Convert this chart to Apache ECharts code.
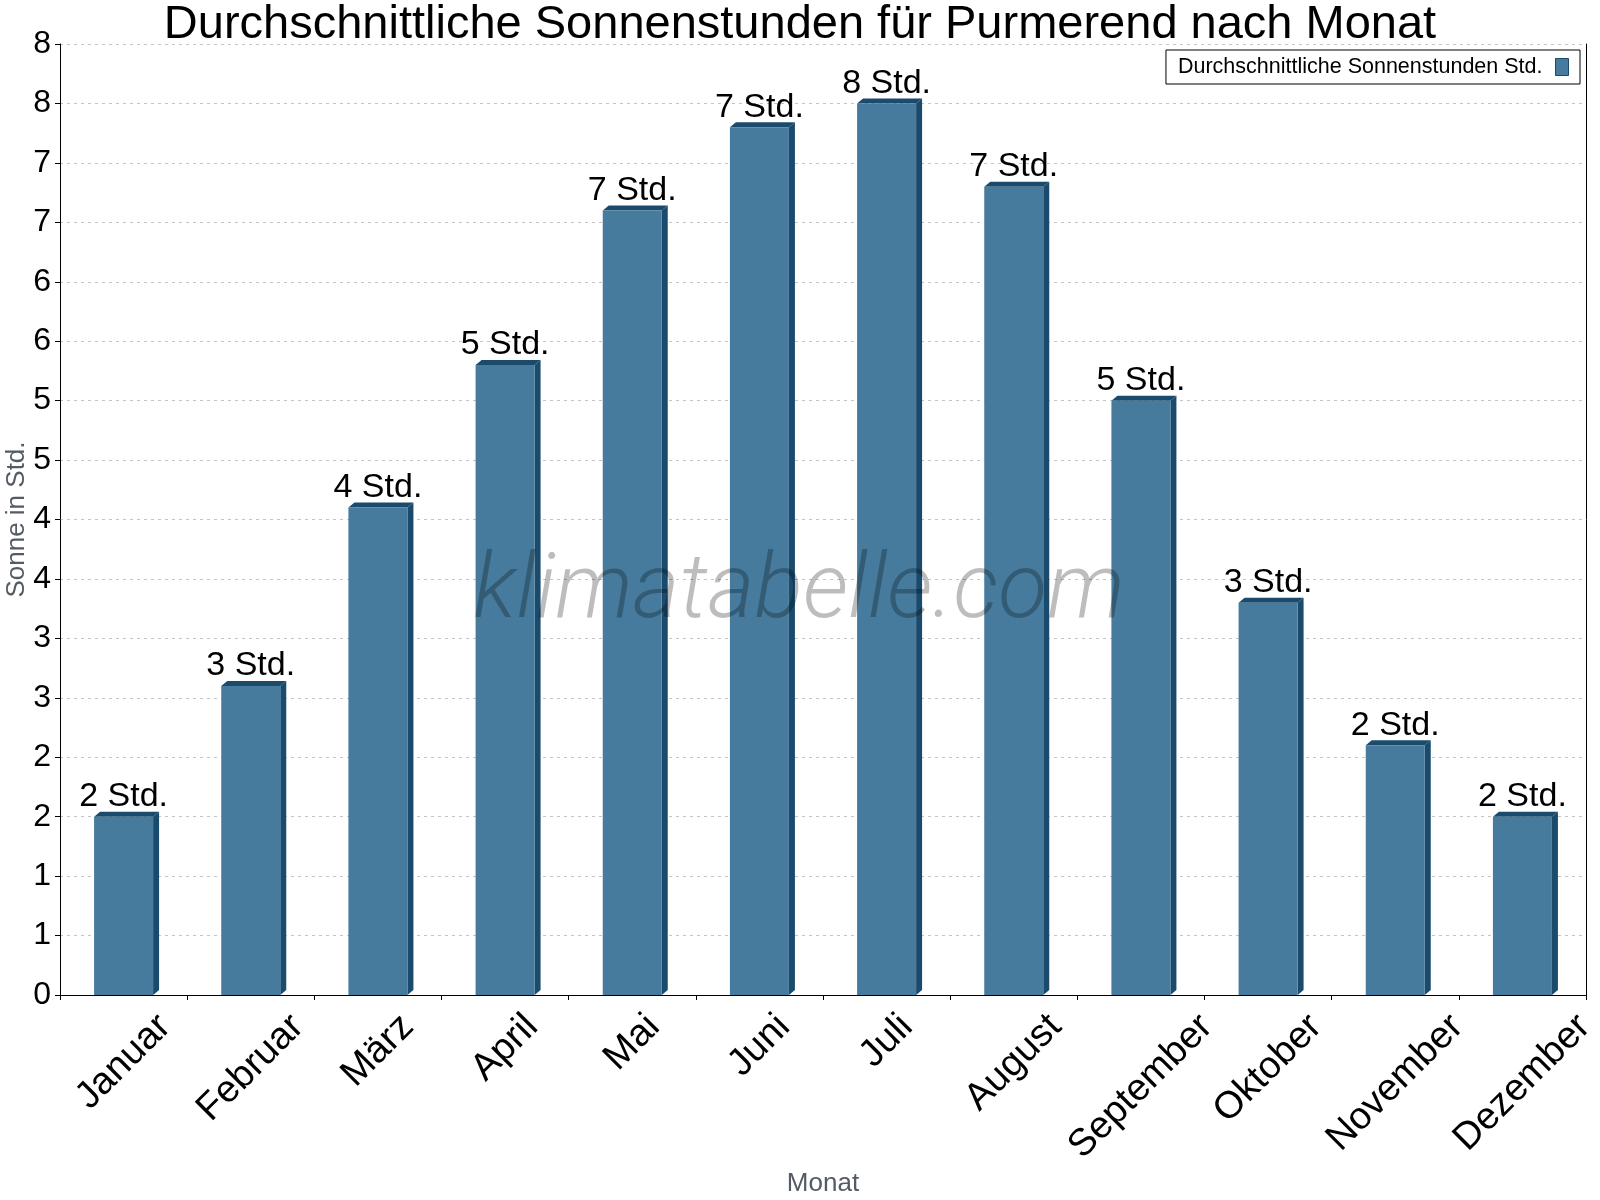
<!DOCTYPE html>
<html>
<head>
<meta charset="utf-8">
<script src="https://cdn.jsdelivr.net/npm/echarts@6/dist/echarts.min.js"></script>
<style>
  html, body { margin: 0; padding: 0; background: #ffffff; }
  #chart { width: 1600px; height: 1200px; }
</style>
</head>
<body>
<div id="chart"></div>
<script>
const months = ['Januar', 'Februar', 'März', 'April', 'Mai', 'Juni', 'Juli', 'August', 'September', 'Oktober', 'November', 'Dezember'];
const sunHours = [1.5, 2.6, 4.1, 5.3, 6.6, 7.3, 7.5, 6.8, 5.0, 3.3, 2.1, 1.5];
const yTickLabels = ['0', '1', '1', '2', '2', '3', '3', '4', '4', '5', '5', '6', '6', '7', '7', '8', '8'];
const seriesName = 'Durchschnittliche Sonnenstunden Std.';
const titleText = 'Durchschnittliche Sonnenstunden für Purmerend nach Monat';

const FRONT = '#467b9d';
const DARK = '#1a4b6c';
const BAR_RATIO = 0.464;
const DEPTH_X = 6, DEPTH_Y = 5;
const FONT = '"Liberation Sans", Arial, Helvetica, sans-serif';
const XLABEL_SIZE = 38;
const XLABEL_FONT = XLABEL_SIZE + 'px ' + FONT;

const measureCtx = document.createElement('canvas').getContext('2d');
measureCtx.font = XLABEL_FONT;

const chart = echarts.init(document.getElementById('chart'), null, { renderer: 'canvas' });

function renderDepth(params, api) {
  const idx = api.value(0);
  const val = api.value(1);
  const top = api.coord([idx, val]);
  const base = api.coord([idx, 0]);
  const bw = api.size([1, 0])[0] * BAR_RATIO;
  const xl = top[0] - bw / 2;
  const xr = top[0] + bw / 2;
  const yt = top[1];
  const yb = base[1];
  return {
    type: 'group',
    children: [
      {
        type: 'polygon',
        shape: { points: [[xr, yt], [xr + DEPTH_X, yt - DEPTH_Y], [xr + DEPTH_X, yb - DEPTH_Y], [xr, yb]] },
        style: { fill: DARK }
      },
      {
        type: 'polygon',
        shape: { points: [[xl, yt], [xl + DEPTH_X, yt - DEPTH_Y], [xr + DEPTH_X, yt - DEPTH_Y], [xr, yt]] },
        style: { fill: DARK }
      }
    ]
  };
}

// Month labels: rotated 45°, bounding box horizontally centred on the category
// and its top kept at a fixed distance below the axis.
function renderMonthLabel(params, api) {
  const idx = api.value(0);
  const p = api.coord([idx, 0]);
  const text = months[idx];
  const L = measureCtx.measureText(text).width;
  const cy = p[1] + 26 + 0.3535 * L;
  return {
    type: 'text',
    x: p[0],
    y: cy,
    rotation: Math.PI / 4,
    silent: true,
    style: {
      text: text,
      font: XLABEL_FONT,
      fill: '#000000',
      align: 'center',
      verticalAlign: 'middle',
      textAlign: 'center',
      textVerticalAlign: 'middle'
    }
  };
}

const option = {
  backgroundColor: '#ffffff',
  animation: false,
  title: {
    text: titleText,
    left: 'center',
    top: 2,
    padding: 0,
    textStyle: { fontFamily: FONT, fontSize: 47, fontWeight: 'normal', color: '#000000' }
  },
  legend: {
    data: [seriesName],
    right: 20,
    top: 50,
    align: 'right',
    orient: 'horizontal',
    padding: [6, 11, 6, 12],
    borderColor: '#000000',
    borderWidth: 1,
    backgroundColor: '#ffffff',
    icon: 'rect',
    itemWidth: 13,
    itemHeight: 17,
    itemStyle: { borderColor: DARK, borderWidth: 1 },
    textStyle: { fontFamily: FONT, fontSize: 21.5, color: '#000000', padding: [0, 8, 0, 0] }
  },
  grid: { left: 60, right: 14, top: 44, bottom: 205, containLabel: false, outerBoundsMode: 'none' },
  xAxis: {
    type: 'category',
    data: months,
    name: 'Monat',
    nameLocation: 'middle',
    nameGap: 176,
    nameMoveOverlap: false,
    nameTextStyle: { fontFamily: FONT, fontSize: 26, color: '#555b62', verticalAlign: 'top' },
    axisLine: { show: true, lineStyle: { color: '#000000', width: 1 } },
    axisTick: { show: true, length: 5, lineStyle: { color: '#000000' } },
    axisLabel: { show: false },
    splitLine: { show: false }
  },
  yAxis: [
    {
      type: 'value',
      min: 0,
      max: 8,
      interval: 0.5,
      name: 'Sonne in Std.',
      nameLocation: 'middle',
      nameGap: 30,
      nameRotate: 90,
      nameMoveOverlap: false,
      nameTextStyle: { fontFamily: FONT, fontSize: 26, color: '#555b62' },
      axisLine: { show: true, lineStyle: { color: '#000000', width: 1 } },
      axisTick: { show: true, length: 5, lineStyle: { color: '#000000' } },
      axisLabel: {
        margin: 9,
        fontFamily: FONT,
        fontSize: 32,
        color: '#000000',
        formatter: function (v) { return yTickLabels[Math.round(v / 0.5)]; }
      },
      splitLine: { show: true, lineStyle: { color: '#c4c4c4', type: [3, 4], width: 1 } }
    },
    {
      type: 'value',
      min: 0,
      max: 8,
      interval: 0.5,
      position: 'right',
      axisLine: { show: true, lineStyle: { color: '#000000', width: 1 } },
      axisTick: { show: false },
      axisLabel: { show: false },
      splitLine: { show: false }
    }
  ],
  series: [
    {
      name: seriesName,
      type: 'bar',
      data: sunHours,
      barWidth: (BAR_RATIO * 100) + '%',
      itemStyle: { color: FRONT },
      label: {
        show: true,
        position: 'top',
        distance: 3,
        fontFamily: FONT,
        fontSize: 34,
        color: '#000000',
        formatter: function (p) { return Math.round(p.value) + ' Std.'; }
      },
      z: 2
    },
    {
      name: 'depth',
      type: 'custom',
      renderItem: renderDepth,
      data: sunHours.map(function (v, i) { return [i, v]; }),
      encode: { x: 0, y: 1 },
      silent: true,
      z: 1
    },
    {
      name: 'monthLabels',
      type: 'custom',
      renderItem: renderMonthLabel,
      data: months.map(function (m, i) { return [i, 0]; }),
      encode: { x: 0, y: 1 },
      clip: false,
      silent: true,
      z: 3
    }
  ],
  graphic: [
    {
      type: 'text',
      x: 799,
      y: 594,
      z: 100,
      silent: true,
      style: {
        text: 'klimatabelle.com',
        font: 'italic 300 90px Roboto, "Open Sans", sans-serif',
        fill: 'rgba(0,0,0,0.26)',
        textAlign: 'center',
        textVerticalAlign: 'middle'
      }
    }
  ]
};

chart.setOption(option);
</script>
</body>
</html>
